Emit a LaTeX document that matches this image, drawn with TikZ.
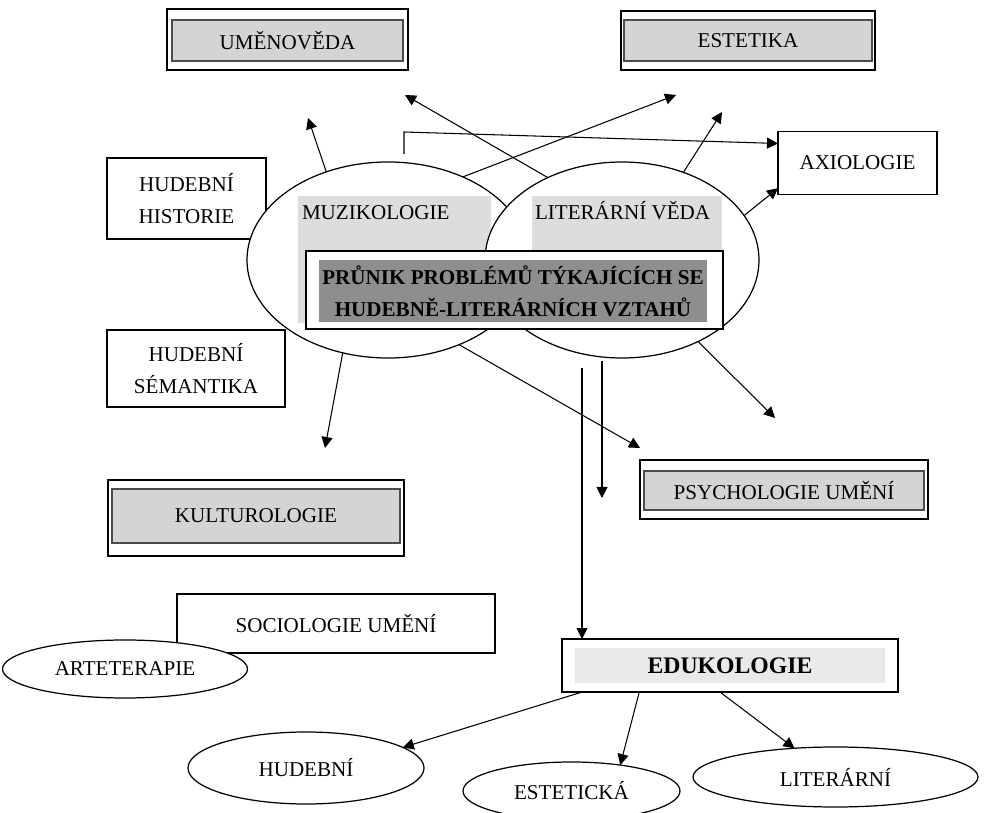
\documentclass[tikz,border=0pt]{standalone}
\usepackage{fontspec}
\setmainfont{Liberation Serif}
\usetikzlibrary{calc,arrows.meta,shapes.geometric}
\definecolor{boxgray}{RGB}{212,212,212}
\definecolor{fieldgray}{RGB}{220,221,223}
\definecolor{coregray}{RGB}{142,142,144}
\definecolor{edugray}{RGB}{232,233,235}

\begin{document}
\begin{tikzpicture}[
    every node/.style = {font=\fontsize{12}{18}\selectfont, inner sep=0pt, outer sep=0pt},
    box/.style = {draw, line width=0.8pt, fill=white, align=center},
    outerbox/.style = {draw, line width=0.8pt, fill=white},
    innerbox/.style = {draw=black!70, line width=1pt, fill=boxgray},
    oval/.style = {draw, ellipse, line width=0.7pt, fill=white},
    arr/.style = {-{Triangle[length=2.2mm,width=2.2mm]}, line width=0.6pt},
  ]
  % page
  \path[fill=white](0,0)rectangle(19.82,16.24);
  \useasboundingbox(0,0)rectangle(19.82,16.24);

  % horni pole
  \node[outerbox, minimum width=4.82cm, minimum height=1.22cm](umo)at(5.75,15.45){};
  \node[innerbox, minimum width=4.62cm, minimum height=0.82cm](um)at(5.75,15.43){UMĚNOVĚDA};
  \node[outerbox, minimum width=5.08cm, minimum height=1.18cm](esto)at(14.96,15.43){};
  \node[innerbox, minimum width=4.96cm, minimum height=0.82cm](est)at(14.96,15.43){ESTETIKA};
  \node[box, minimum width=3.18cm, minimum height=1.26cm](ax)at(17.15,12.98){AXIOLOGIE};

  % leve boxy
  \node[box, minimum width=3.18cm, minimum height=1.62cm](hist)at(3.73,12.27){HUDEBNÍ\\HISTORIE};
  \node[box, minimum width=3.56cm, minimum height=1.54cm](sem)at(3.92,8.87){HUDEBNÍ\\SÉMANTIKA};

  % muzikologie a literarni veda
  \node[oval, minimum width=5.64cm, minimum height=3.92cm](muz)at(7.76,11.04){};
  \path[fill=fieldgray](5.96,9.78)rectangle(9.82,12.32);
  \node[oval, minimum width=5.48cm, minimum height=3.92cm](lit)at(12.44,11.04){};
  \path[fill=fieldgray](10.64,9.78)rectangle(14.44,12.32);
  \node[anchor=base west](muzlbl)at(6.04,11.84){MUZIKOLOGIE};
  \node[anchor=base west](litlbl)at(10.7,11.84){LITERÁRNÍ VĚDA};

  % prunik
  \node[outerbox, minimum width=8.34cm, minimum height=1.56cm](coreo)at(10.29,10.44){};
  \node[fill=coregray, minimum width=7.76cm, minimum height=1.24cm, align=center,
        font=\fontsize{12}{18}\selectfont\bfseries](core)at(10.26,10.42)
        {PRŮNIK PROBLÉMŮ TÝKAJÍCÍCH SE\\HUDEBNĚ-LITERÁRNÍCH VZTAHŮ};

  % dolni pole
  \node[outerbox, minimum width=5.92cm, minimum height=1.52cm](kulo)at(5.12,5.88){};
  \node[innerbox, minimum width=5.76cm, minimum height=1.08cm](kul)at(5.12,5.92){KULTUROLOGIE};
  \node[outerbox, minimum width=5.76cm, minimum height=1.18cm](psyo)at(15.68,6.45){};
  \node[innerbox, minimum width=5.6cm, minimum height=0.78cm](psy)at(15.68,6.43){PSYCHOLOGIE UMĚNÍ};
  \node[box, minimum width=6.36cm, minimum height=1.18cm](soc)at(6.72,3.77){SOCIOLOGIE UMĚNÍ};
  \node[oval, minimum width=4.9cm, minimum height=1.16cm](art)at(2.5,2.86){ARTETERAPIE};

  % edukologie
  \node[outerbox, minimum width=6.72cm, minimum height=1.06cm](edu)at(14.6,2.93){};
  \node[fill=edugray, minimum width=6.2cm, minimum height=0.7cm,
        font=\fontsize{13.5}{16}\selectfont\bfseries](edulbl)at(14.6,2.93){EDUKOLOGIE};
  \node[oval, minimum width=4.72cm, minimum height=1.44cm](hud)at(6.12,0.88){HUDEBNÍ};
  \node[oval, minimum width=4.34cm, minimum height=1.16cm](estc)at(11.43,0.42){ESTETICKÁ};
  \node[oval, minimum width=5.7cm, minimum height=1.2cm](litr)at(16.71,0.70){LITERÁRNÍ};

  % volne konce sipek
  \coordinate(tUm)at(6.16,13.88);
  \coordinate(tUm2)at(8.1,14.34);
  \coordinate(tEst)at(13.52,14.34);
  \coordinate(tEst2)at(14.44,14.0);
  \coordinate(bend0)at(8.08,13.16);
  \coordinate(bend1)at(8.08,13.6);
  \coordinate(tKul)at(6.5,7.28);
  \coordinate(tPsy)at(12.8,7.28);
  \coordinate(tPsy2)at(15.5,7.88);
  \coordinate(v1)at(11.64,8.88);
  \coordinate(v2)at(12.04,9.02);
  \coordinate(v2e)at(12.04,6.28);

  % sipky nahoru
  \draw[arr](muz.125.8)--(tUm);
  \draw[arr](lit.132.9)--(tUm2);
  \draw[arr](muz.48.9)--(tEst);
  \draw[arr](lit.55.5)--(tEst2);
  \draw[arr](bend0)--(bend1)--($(ax.north west)!0.19!(ax.south west)$);
  \draw[arr](lit.20.9)--($(ax.north west)!0.9!(ax.south west)$);

  % sipky dolu
  \draw[arr](muz.244)--(tKul);
  \draw[arr](muz.310)--(tPsy);
  \draw[arr](lit.313)--(tPsy2);
  \draw[arr](v1)--(v1|-edu.north);
  \draw[arr](v2)--(v2e);

  % edukologie
  \draw[arr]($(edu.south west)!0.06!(edu.south east)$)--(hud.12);
  \draw[arr]($(edu.south west)!0.23!(edu.south east)$)--(estc.28);
  \draw[arr]($(edu.south west)!0.47!(edu.south east)$)--(litr.145);
\end{tikzpicture}
\end{document}
